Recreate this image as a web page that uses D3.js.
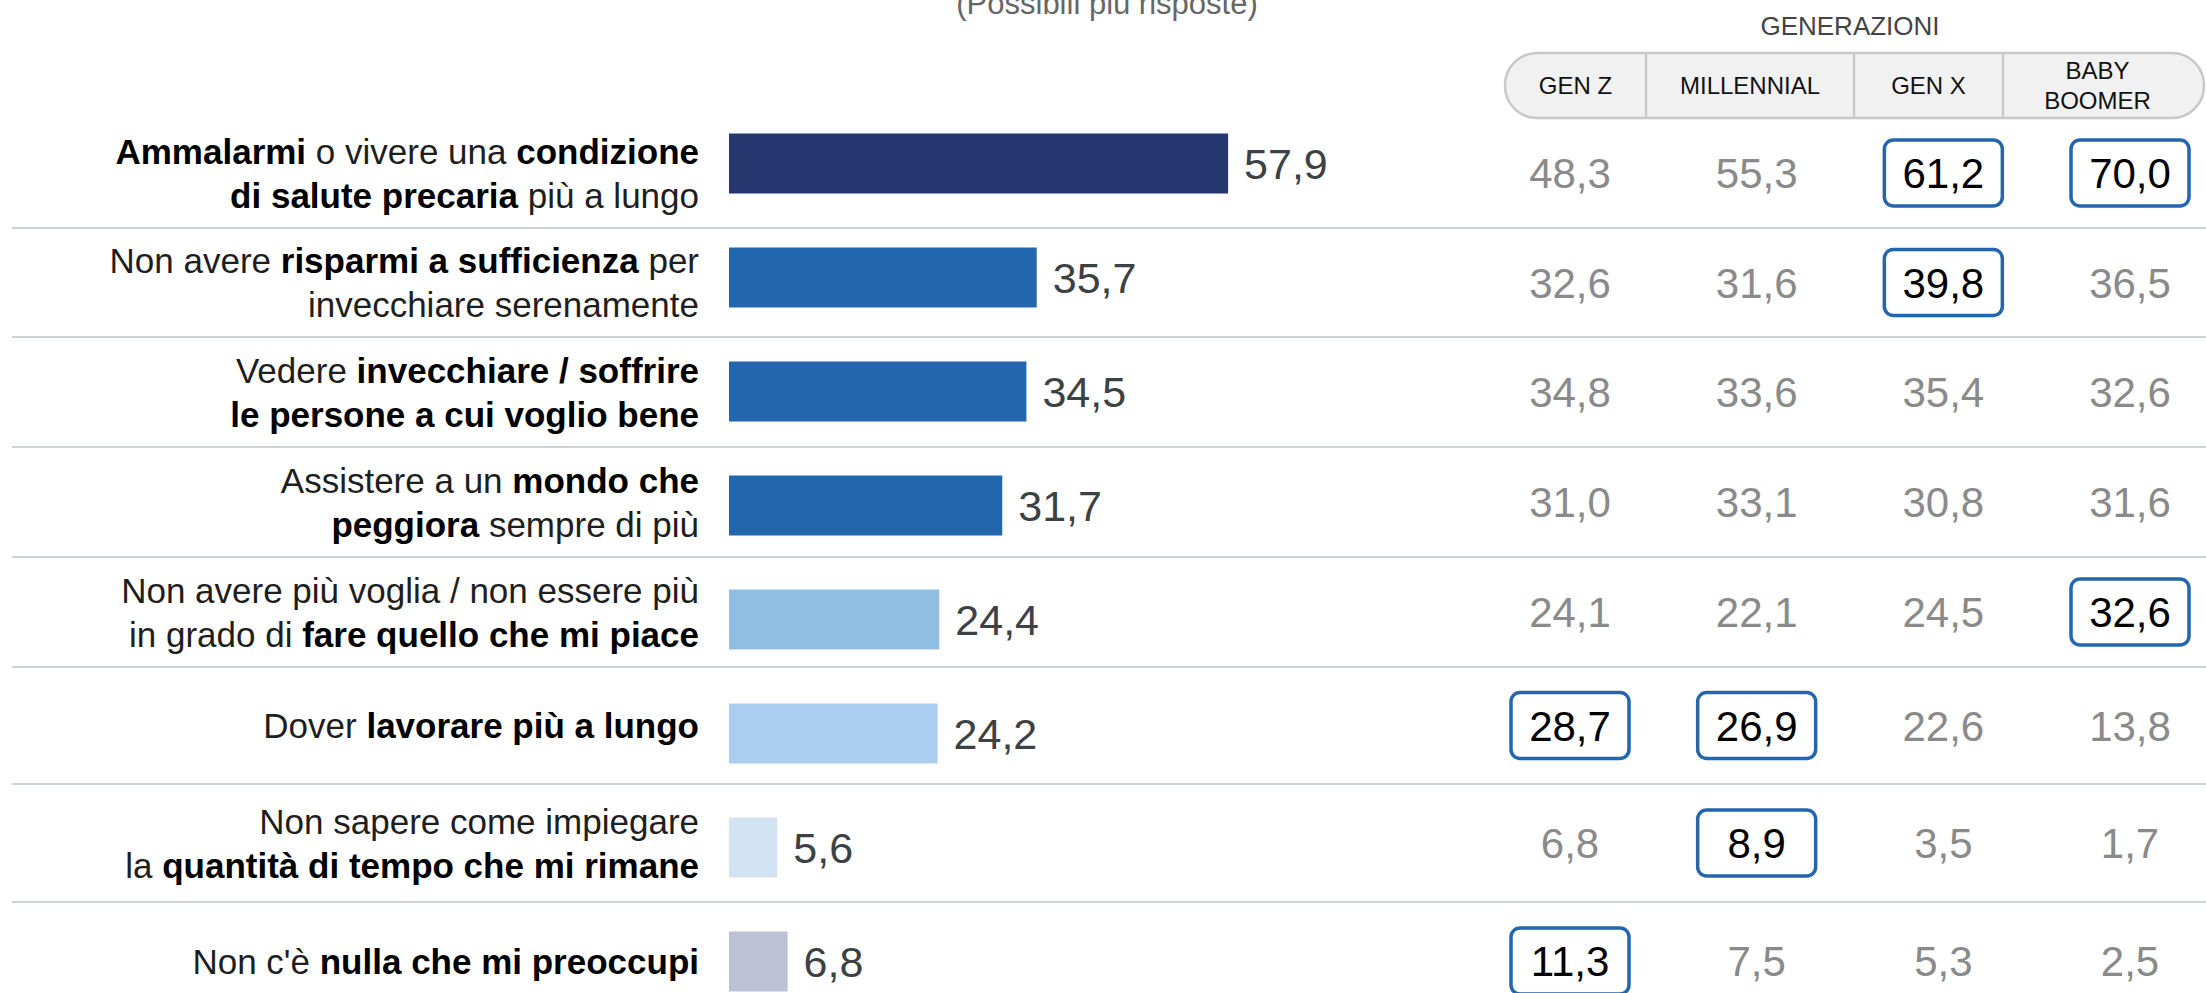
<!DOCTYPE html>
<html>
<head>
<meta charset="utf-8">
<script src="https://cdn.jsdelivr.net/npm/d3@7"></script>
<style>
	body { margin: 0; background: #fff; }
	svg { display: block; font-family: "Liberation Sans", Arial, sans-serif; }
</style>
</head>
<body>
<svg width="2206" height="993"></svg>
<script>
'use strict';

// Answer labels, **bold** parts marked, one entry per line
var labels = [
	['**Ammalarmi** o vivere una **condizione**', '**di salute precaria** più a lungo'],
	['Non avere **risparmi a sufficienza** per', 'invecchiare serenamente'],
	['Vedere **invecchiare / soffrire**', '**le persone a cui voglio bene**'],
	['Assistere a un **mondo che**', '**peggiora** sempre di più'],
	['Non avere più voglia / non essere più', 'in grado di **fare quello che mi piace**'],
	['Dover **lavorare più a lungo**'],
	['Non sapere come impiegare', 'la **quantità di tempo che mi rimane**'],
	['Non c\'è **nulla che mi preoccupi**']
];

// Total (bars)
var totals = [57.9, 35.7, 34.5, 31.7, 24.4, 24.2, 5.6, 6.8];
var barColors = ['#26366f', '#2266ad', '#2266ad', '#2266ad', '#91bee3', '#abcdf0', '#d2e4f4', '#bcc1d5'];

// Generations
var generations = ['GEN Z', 'MILLENNIAL', 'GEN X', 'BABY BOOMER'];
var genHeaderLines = [['GEN Z'], ['MILLENNIAL'], ['GEN X'], ['BABY', 'BOOMER']];
var genZ       = [48.3, 32.6, 34.8, 31.0, 24.1, 28.7, 6.8, 11.3];
var millennial = [55.3, 31.6, 33.6, 33.1, 22.1, 26.9, 8.9, 7.5];
var genX       = [61.2, 39.8, 35.4, 30.8, 24.5, 22.6, 3.5, 5.3];
var boomer     = [70.0, 36.5, 32.6, 31.6, 32.6, 13.8, 1.7, 2.5];
var genValues = [genZ, millennial, genX, boomer];

// highlighted cells: [row, generation column]
var highlights = [[0, 2], [0, 3], [1, 2], [4, 3], [5, 0], [5, 1], [6, 1], [7, 0]];

var svg = d3.select('svg');
var fmt = function (v) { return v.toFixed(1).replace('.', ','); };

// table rows (layout)
var tableTop = 118;
var rowHeights = [110, 109, 110, 110, 110, 117, 118, 118];
var rowTops = [];
rowHeights.reduce(function (acc, h) { rowTops.push(acc); return acc + h; }, tableTop);
var rowCenter = function (i) { return rowTops[i] + rowHeights[i] / 2; };

var rows = d3.range(labels.length);

// scales
var x = d3.scaleLinear().domain([0, 100]).range([729, 729 + 862]);
var yBar = d3.scalePoint().domain(rows).range([163.5, 163.5 + 114 * 7]);
var colX = d3.scalePoint().domain(generations).range([1570, 2130]);

// subtitle
svg.append('text')
	.attr('x', 1107).attr('y', 14)
	.attr('text-anchor', 'middle')
	.attr('font-size', 31).attr('fill', '#666')
	.text('(Possibili più risposte)');

svg.append('text')
	.attr('x', 1850).attr('y', 35)
	.attr('text-anchor', 'middle')
	.attr('font-size', 26).attr('fill', '#444')
	.text('GENERAZIONI');

// header pill
var pill = { x0: 1505, x1: 2204, y0: 53, y1: 118 };
var cellEdges = [1505, 1646, 1854, 2003, 2204];
var head = svg.append('g').attr('class', 'gen-header');
head.append('rect')
	.attr('x', pill.x0).attr('y', pill.y0)
	.attr('width', pill.x1 - pill.x0).attr('height', pill.y1 - pill.y0)
	.attr('rx', 32).attr('ry', 32)
	.attr('fill', '#f1f1f1').attr('stroke', '#c8c8c8').attr('stroke-width', 2.5);
head.selectAll('line.div')
	.data(cellEdges.slice(1, -1))
	.enter().append('line')
	.attr('class', 'div')
	.attr('x1', function (d) { return d; }).attr('x2', function (d) { return d; })
	.attr('y1', pill.y0 + 1).attr('y2', pill.y1 - 1)
	.attr('stroke', '#c8c8c8').attr('stroke-width', 2.5);
genHeaderLines.forEach(function (lines, i) {
	var cx = (cellEdges[i] + cellEdges[i + 1]) / 2 - (i === 3 ? 6 : 0);
	var cy = (pill.y0 + pill.y1) / 2;
	lines.forEach(function (line, j) {
		head.append('text')
			.attr('x', cx)
			.attr('y', cy + 8.5 + (j - (lines.length - 1) / 2) * 30)
			.attr('text-anchor', 'middle')
			.attr('font-size', 24).attr('fill', '#111')
			.text(line);
	});
});

// separators
svg.append('g').selectAll('line')
	.data(rows.slice(0, -1))
	.enter().append('line')
	.attr('x1', 12).attr('x2', 2206)
	.attr('y1', function (i) { return rowTops[i] + rowHeights[i]; })
	.attr('y2', function (i) { return rowTops[i] + rowHeights[i]; })
	.attr('stroke', '#cdd4d4').attr('stroke-width', 2);

// labels
var labelG = svg.append('g').attr('class', 'labels');
labels.forEach(function (lines, i) {
	var c = rowCenter(i);
	lines.forEach(function (line, j) {
		var t = labelG.append('text')
			.attr('x', 699)
			.attr('y', c + 12.5 + (j - (lines.length - 1) / 2) * 44)
			.attr('text-anchor', 'end')
			.attr('font-size', 35);
		line.split('**').forEach(function (part, k) {
			if (!part) { return; }
			t.append('tspan')
				.attr('font-weight', k % 2 ? 'bold' : 'normal')
				.attr('fill', k % 2 ? '#000' : '#1e1e1e')
				.text(part);
		});
	});
});

// bars
svg.append('g').selectAll('rect')
	.data(rows)
	.enter().append('rect')
	.attr('x', x(0))
	.attr('y', function (i) { return yBar(i) - 30; })
	.attr('width', function (i) { return x(totals[i]) - x(0); })
	.attr('height', 60)
	.attr('fill', function (i) { return barColors[i]; });

svg.append('g').selectAll('text')
	.data(rows)
	.enter().append('text')
	.attr('x', function (i) { return x(totals[i]) + 16; })
	.attr('y', function (i) { return yBar(i) + 15.5; })
	.attr('font-size', 43).attr('fill', '#3c4144')
	.text(function (i) { return fmt(totals[i]); });

// generation values
var isHi = function (r, c) {
	return highlights.some(function (h) { return h[0] === r && h[1] === c; });
};
var cells = [];
rows.forEach(function (r) {
	generations.forEach(function (g, c) {
		cells.push({ row: r, col: c, gen: g, value: genValues[c][r], hi: isHi(r, c) });
	});
});

var cellG = svg.append('g').attr('class', 'cells');
cellG.selectAll('rect')
	.data(cells.filter(function (d) { return d.hi; }))
	.enter().append('rect')
	.attr('x', function (d) { return colX(d.gen) - 59; })
	.attr('y', function (d) { return rowCenter(d.row) - 33; })
	.attr('width', 118).attr('height', 66)
	.attr('rx', 9).attr('ry', 9)
	.attr('fill', '#fff').attr('stroke', '#2366ad').attr('stroke-width', 3.5);
cellG.selectAll('text')
	.data(cells)
	.enter().append('text')
	.attr('x', function (d) { return colX(d.gen); })
	.attr('y', function (d) { return rowCenter(d.row) + 15; })
	.attr('text-anchor', 'middle')
	.attr('font-size', 42)
	.attr('fill', function (d) { return d.hi ? '#000' : '#8a8a8a'; })
	.text(function (d) { return fmt(d.value); });
</script>
</body>
</html>
